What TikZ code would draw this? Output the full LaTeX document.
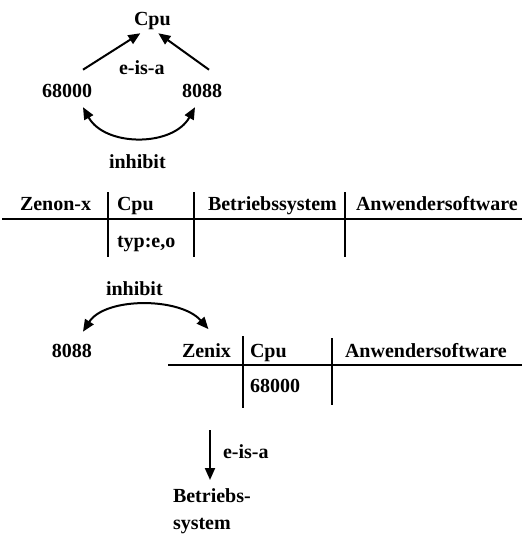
\documentclass[tikz,border=0pt]{standalone}
\usepackage{fontspec}
\setmainfont{Liberation Serif}
\usetikzlibrary{arrows.meta}
\begin{document}
\begin{tikzpicture}[x=1pt,y=-1pt,
  every node/.style={inner sep=0pt,outer sep=0pt,font=\fontsize{20}{27}\selectfont\bfseries},
  lbl/.style={anchor=base west},
  ln/.style={line width=1.5pt},
  arr/.style={line width=2pt,-{Triangle[length=12pt,width=10pt]}},
  dbl/.style={line width=2pt,{Triangle[length=12pt,width=10pt]}-{Triangle[length=12pt,width=10pt]}}]
\useasboundingbox (0,0) rectangle (522,539);
% top part
\node[lbl] (cpu) at (134,25) {Cpu};
\node[lbl] (eisa1) at (119,74) {e-is-a};
\node[lbl] (m68) at (42,97) {68000};
\node[lbl] (i88) at (182,97) {8088};
\node[lbl] (inh1) at (109,168) {inhibit};
\draw[arr] ([shift={(16,-14)}]m68.north) -- ([shift={(-12,4)}]cpu.south);
\draw[arr] ([shift={(7,-14)}]i88.north) -- ([shift={(6,4)}]cpu.south);
\draw[dbl] ([shift={(16,10)}]m68.south) .. controls (105,147) and (173,147) .. ([shift={(-7,10)}]i88.south);
% table 1
\node[lbl] (zenon) at (20,210) {Zenon-x};
\node[lbl] (tcpu) at (117,210) {Cpu};
\node[lbl] (tbs) at (208,210) {Betriebssystem};
\node[lbl] (taw) at (356,210) {Anwendersoftware};
\node[lbl] (typ) at (117,247) {typ:e,o};
\draw[ln] (2,219) -- (522,219);
\draw[ln] (108,192) -- (108,257);
\draw[ln] (194,192) -- (194,257);
\draw[ln] (345,192) -- (345,257);
% lower part
\node[lbl] (inh2) at (106,295) {inhibit};
\node[lbl] (i88b) at (52,357) {8088};
\node[lbl] (zenix) at (182,357) {Zenix};
\node[lbl] (zcpu) at (250,357) {Cpu};
\node[lbl] (zaw) at (345,357) {Anwendersoftware};
\node[lbl] (z68) at (250,392) {68000};
\draw[dbl] ([shift={(11,-12)}]i88b.north) .. controls (105,297) and (180,297) .. ([shift={(2,-14)}]zenix.north);
\draw[ln] (168,365) -- (522,365);
\draw[ln] (243,336) -- (243,408);
\draw[ln] (332,338) -- (332,405);
% bottom arrow
\node[lbl] (eisa2) at (223,458) {e-is-a};
\node[anchor=north west,align=left] (bs) at (173,489) {Betriebs-\\system};
\coordinate (top) at (210,430);
\draw[arr] (top) -- (top |- bs.north) [shorten >=9pt];
\end{tikzpicture}
\end{document}
